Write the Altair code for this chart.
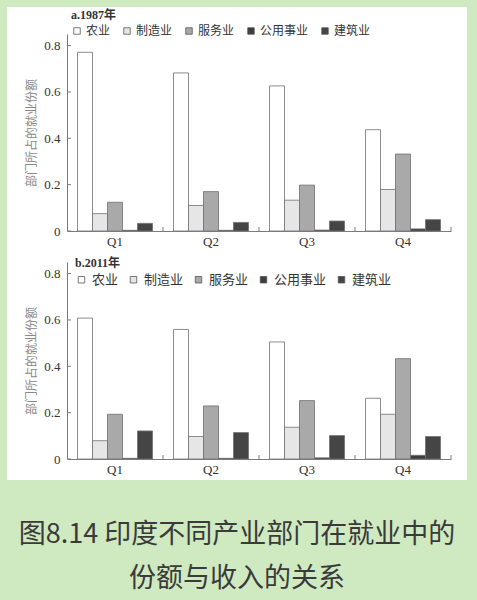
import altair as alt
import pandas as pd

quarters = ["Q1", "Q2", "Q3", "Q4"]
sectors = ["农业", "制造业", "服务业", "公用事业", "建筑业"]
sector_colors = ["#ffffff", "#e6e6e6", "#a9a9a9", "#3d3d3d", "#454545"]
y_ticks = [0, 0.2, 0.4, 0.6, 0.8]
caption_lines = ["图8.14 印度不同产业部门在就业中的", "份额与收入的关系"]

# a. 1987
agri_1987 = [0.771, 0.682, 0.626, 0.437]
manu_1987 = [0.075, 0.110, 0.133, 0.179]
serv_1987 = [0.124, 0.170, 0.198, 0.332]
util_1987 = [0.003, 0.003, 0.004, 0.009]
cons_1987 = [0.033, 0.037, 0.043, 0.049]

# b. 2011
agri_2011 = [0.608, 0.559, 0.505, 0.262]
manu_2011 = [0.079, 0.097, 0.137, 0.193]
serv_2011 = [0.193, 0.229, 0.252, 0.433]
util_2011 = [0.003, 0.003, 0.005, 0.016]
cons_2011 = [0.121, 0.114, 0.101, 0.097]


def make_df(series):
    rows = []
    for sector, vals in zip(sectors, series):
        for q, v in zip(quarters, vals):
            rows.append({"q": q, "sector": sector, "share": v})
    return pd.DataFrame(rows)


df_a = make_df([agri_1987, manu_1987, serv_1987, util_1987, cons_1987])
df_b = make_df([agri_2011, manu_2011, serv_2011, util_2011, cons_2011])

W, H = 384, 197
SERIF = "Liberation Serif, Noto Sans CJK SC"
CJK = "Noto Sans CJK SC"
AXIS_COLOR = "#7a7a7a"
BG = "#cfe9c1"

x_axis = alt.Axis(title=None, labelAngle=0, ticks=False, domainColor=AXIS_COLOR,
                  labelFont=SERIF, labelFontSize=13, labelColor="#333333", labelPadding=4,
                  zindex=1)
y_axis = alt.Axis(values=y_ticks, grid=False, ticks=False, domainColor=AXIS_COLOR,
                  labelExpr="datum.value == 0 ? '0' : format(datum.value, '.1f')",
                  labelFont=SERIF, labelFontSize=13, labelColor="#333333",
                  labelPadding=7, title="部门所占的就业份额", titleFont=CJK,
                  titleFontSize=12, titleFontWeight="normal", titleColor="#888888",
                  titlePadding=5, zindex=1)
x_scale = alt.Scale(paddingInner=0, paddingOuter=0)
y_scale = alt.Scale(domain=[0, 0.85], nice=False)


def panel(df, legend_title, lx, ly, label_size, label_offset, col_pad, extra=None):
    bars = alt.Chart(df).mark_bar(stroke="#707070", strokeWidth=0.8).encode(
        x=alt.X("q:N", sort=quarters, scale=x_scale, axis=x_axis),
        xOffset=alt.XOffset("sector:N", sort=sectors,
                            scale=alt.Scale(paddingInner=0, paddingOuter=0.7)),
        y=alt.Y("share:Q", scale=y_scale, axis=y_axis),
        color=alt.Color(
            "sector:N", sort=sectors,
            scale=alt.Scale(domain=sectors, range=sector_colors),
            legend=alt.Legend(
                title=legend_title, orient="none", legendX=lx, legendY=ly,
                direction="horizontal", columns=5, columnPadding=col_pad,
                titleFont=SERIF, titleFontSize=12, titleFontWeight="bold",
                titleColor="#333333", titleAnchor="start", titlePadding=3,
                labelFont=CJK, labelFontSize=label_size, labelColor="#333333",
                labelOffset=label_offset, symbolType="square", symbolSize=42,
                symbolStrokeColor="#555555", symbolStrokeWidth=0.8,
            ),
        ),
    )
    xticks = alt.Chart(pd.DataFrame({"q": quarters})).mark_rule(color=AXIS_COLOR).encode(
        x=alt.X("q:N", sort=quarters, bandPosition=1, scale=x_scale, axis=x_axis),
        y=alt.value(H), y2=alt.value(H - 4),
    )
    yticks = alt.Chart(pd.DataFrame({"share": y_ticks})).mark_rule(color=AXIS_COLOR).encode(
        y=alt.Y("share:Q", scale=y_scale, axis=y_axis),
        x=alt.value(0), x2=alt.value(4),
    )
    layers = [bars, xticks, yticks]
    if extra:
        layers = extra + layers
    return alt.layer(*layers).properties(width=W, height=H)


one = pd.DataFrame({"k": [0]})
white_box = alt.Chart(one).mark_rect(fill="white").encode(
    x=alt.value(-60), x2=alt.value(400), y=alt.value(-27), y2=alt.value(446)
)
bottom_edge = alt.Chart(one).mark_rect(fill=BG).encode(
    x=alt.value(0), x2=alt.value(2), y=alt.value(334), y2=alt.value(338)
)
cap1 = alt.Chart(one).mark_text(font=CJK, fontSize=27, color="#3a3a3a", baseline="middle",
                                align="center").encode(
    text=alt.value(caption_lines[0]), x=alt.value(170), y=alt.value(273)
)
cap2 = alt.Chart(one).mark_text(font=CJK, fontSize=27, color="#3a3a3a", baseline="middle",
                                align="center").encode(
    text=alt.value(caption_lines[1]), x=alt.value(170), y=alt.value(317)
)

panel_a = panel(df_a, "a.1987年", 4, -24, 12, 3, 10, extra=[white_box])
panel_b = panel(df_b, "b.2011年", 8, -4, 13, 4, 8, extra=[bottom_edge, cap1, cap2])

chart = alt.vconcat(
    panel_a, panel_b, spacing=31, bounds="flush",
).resolve_legend(color="independent").properties(
    padding={"left": 7, "top": 7, "right": 10, "bottom": 0}
).configure(background=BG).configure_view(stroke=None)

chart.save("out.html", embed_options={"renderer": "svg", "actions": False})
